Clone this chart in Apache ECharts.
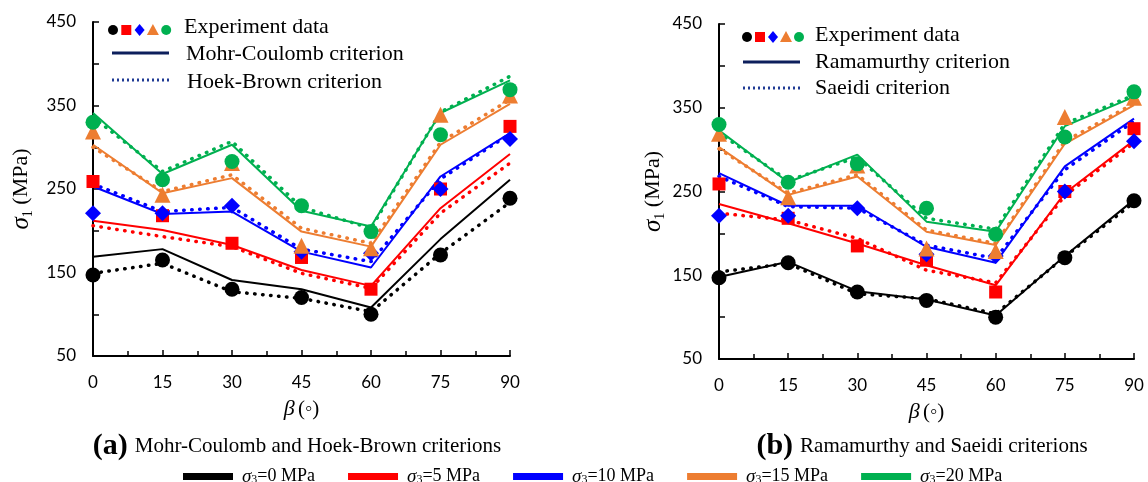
<!DOCTYPE html>
<html>
<head>
<meta charset="utf-8">
<script src="https://cdn.jsdelivr.net/npm/echarts@6/dist/echarts.min.js"></script>
<style>
  html, body { margin: 0; padding: 0; background: #fff; }
  #chart { width: 1148px; height: 482px; }
</style>
</head>
<body>
<div id="chart"></div>
<script>
const betaTicks = [0, 15, 30, 45, 60, 75, 90]
const stressLevels = ['0', '5', '10', '15', '20']
const colors = ['#000000', '#ff0000', '#0000ff', '#ed7d31', '#00b050']
const expSymbols = ['circle', 'rect', 'diamond', 'triangle', 'circle']

// experiment data, sigma3 = 0, 5, 10, 15, 20 MPa
const exp0 = [147, 165, 130, 120, 100, 171, 239]
const exp5 = [259, 218, 185, 168, 130, 250, 325]
const exp10 = [221, 221, 230, 175, 173, 250, 310]
const exp15 = [319, 243, 281, 182, 179, 339, 362]
const exp20 = [330, 261, 283, 230, 199, 315, 369]

// (a) Mohr-Coulomb
const mc0 = [169, 178, 141, 130, 108, 190, 261]
const mc5 = [212, 201, 183, 153, 134, 227, 292]
const mc10 = [253, 220, 223, 175, 156, 265, 317]
const mc15 = [303, 245, 263, 199, 181, 303, 352]
const mc20 = [341, 268, 303, 224, 205, 341, 380]

// (a) Hoek-Brown
const hb0 = [149, 161, 127, 119, 103, 173, 234]
const hb5 = [206, 193, 181, 149, 131, 221, 281]
const hb10 = [256, 223, 228, 178, 163, 262, 316]
const hb15 = [300, 247, 267, 203, 185, 306, 357]
const hb20 = [336, 271, 307, 228, 203, 342, 385]

// (b) Ramamurthy
const ra0 = [148, 166, 131, 121, 102, 173, 240]
const ra5 = [235, 212, 188, 162, 138, 248, 311]
const ra10 = [272, 233, 233, 184, 165, 280, 337]
const ra15 = [303, 246, 268, 202, 186, 307, 353]
const ra20 = [323, 261, 294, 214, 202, 328, 363]

// (b) Saeidi
const sa0 = [154, 164, 128, 122, 104, 172, 237]
const sa5 = [224, 216, 194, 156, 141, 245, 308]
const sa10 = [268, 232, 230, 186, 170, 276, 334]
const sa15 = [301, 248, 270, 204, 188, 310, 355]
const sa20 = [320, 263, 291, 218, 205, 331, 365]

const expAll = [exp0, exp5, exp10, exp15, exp20]
const mcAll = [mc0, mc5, mc10, mc15, mc20]
const hbAll = [hb0, hb5, hb10, hb15, hb20]
const raAll = [ra0, ra5, ra10, ra15, ra20]
const saAll = [sa0, sa5, sa10, sa15, sa20]

const serif = '"Liberation Serif", "DejaVu Serif", serif'
const sans = 'Lato, "Liberation Sans", sans-serif'

function pts(vals) {
  return betaTicks.map((b, i) => [b, vals[i]])
}

function solidLine(name, vals, k, axis) {
  return {
    name, type: 'line', xAxisIndex: axis, yAxisIndex: axis,
    data: pts(vals), symbol: 'none', silent: true, z: 2,
    lineStyle: { color: colors[k], width: 2 }
  }
}

function dotLine(name, vals, k, axis) {
  return {
    name, type: 'line', xAxisIndex: axis, yAxisIndex: axis,
    data: pts(vals), symbol: 'none', silent: true, z: 3,
    lineStyle: { color: colors[k], width: 3.5, type: [0.5, 7.5], cap: 'round' }
  }
}

function expPoints(vals, k, axis) {
  const sym = expSymbols[k]
  return {
    name: 'exp' + k + '_' + axis, type: 'scatter', xAxisIndex: axis, yAxisIndex: axis,
    data: pts(vals), symbol: sym, z: 5,
    symbolSize: sym === 'rect' ? 13 : sym === 'circle' ? 15 : 16,
    itemStyle: { color: colors[k], opacity: 1 }
  }
}

const series = []
for (let k = 0; k < 5; k++) {
  series.push(solidLine('mc' + k, mcAll[k], k, 0))
  series.push(dotLine('hb' + k, hbAll[k], k, 0))
  series.push(solidLine('ra' + k, raAll[k], k, 1))
  series.push(dotLine('sa' + k, saAll[k], k, 1))
}
for (let k = 0; k < 5; k++) {
  series.push(expPoints(expAll[k], k, 0))
  series.push(expPoints(expAll[k], k, 1))
}
// legend-only series
stressLevels.forEach((s, k) => {
  series.push({ name: s, type: 'line', data: [], itemStyle: { color: colors[k] }, lineStyle: { color: colors[k] } })
})

function xAxis(idx) {
  return {
    type: 'value', gridIndex: idx, min: 0, max: 90, interval: 15,
    name: '{i|β} {n|(◦)}', nameLocation: 'middle', nameGap: 42,
    nameTextStyle: {
      rich: {
        i: { fontFamily: serif, fontStyle: 'italic', fontSize: 22, color: '#000' },
        n: { fontFamily: serif, fontSize: 21, color: '#000' }
      }
    },
    axisLine: { lineStyle: { color: '#000', width: 2 } },
    axisTick: { inside: true, length: 6, lineStyle: { color: '#000', width: 1.5 } },
    minorTick: { show: true, splitNumber: 2, length: 5, lineStyle: { color: '#000', width: 1.5 } },
    axisLabel: { color: '#000', fontFamily: sans, fontSize: 17, margin: 18 },
    splitLine: { show: false }
  }
}

function yAxis(idx, gap) {
  return {
    type: 'value', gridIndex: idx, min: 50, max: 450, interval: 50,
    name: '{i|σ}{s|1}{n| (MPa)}', nameLocation: 'middle', nameGap: gap,
    nameTextStyle: {
      rich: {
        i: { fontFamily: serif, fontStyle: 'italic', fontSize: 25, color: '#000', lineHeight: 28 },
        s: { fontFamily: serif, fontSize: 14, color: '#000', verticalAlign: 'bottom', lineHeight: 28, padding: [9, 0, 0, 0] },
        n: { fontFamily: serif, fontSize: 22, color: '#000', lineHeight: 28 }
      }
    },
    axisLine: { show: true, lineStyle: { color: '#000', width: 2 } },
    axisTick: { inside: true, length: 6, lineStyle: { color: '#000', width: 1.5 } },
    axisLabel: {
      color: '#000', fontFamily: sans, fontSize: 17, margin: 17,
      formatter: v => ((v - 50) % 100 === 0 ? String(v) : '')
    },
    splitLine: { show: false }
  }
}

// marker row of the in-plot legends
function markerRow(x0, y, step) {
  const els = []
  expSymbols.forEach((sym, k) => {
    const cx = x0 + k * step
    const fill = colors[k]
    if (sym === 'circle') els.push({ type: 'circle', shape: { cx, cy: y, r: 5 }, style: { fill } })
    if (sym === 'rect') els.push({ type: 'rect', shape: { x: cx - 5, y: y - 5, width: 10, height: 10 }, style: { fill } })
    if (sym === 'diamond') els.push({ type: 'polygon', shape: { points: [[cx, y - 6], [cx + 5, y], [cx, y + 6], [cx - 5, y]] }, style: { fill } })
    if (sym === 'triangle') els.push({ type: 'polygon', shape: { points: [[cx, y - 6], [cx + 6, y + 5], [cx - 6, y + 5]] }, style: { fill } })
  })
  return els
}

function legendText(x, y, text) {
  return { type: 'text', x, y, style: { text, fill: '#000', font: '22px ' + serif, verticalAlign: 'middle' } }
}

function keyLine(x1, x2, y, dotted) {
  return {
    type: 'line', shape: { x1, y1: y, x2, y2: y },
    style: dotted
      ? { stroke: '#1f3a93', lineWidth: 3, lineDash: [2, 3] }
      : { stroke: '#0d1f5c', lineWidth: 3 }
  }
}

function caption(cx, y, tag, text) {
  return {
    type: 'text', x: cx, y,
    style: {
      text: '{b|' + tag + '}{t|' + text + '}', align: 'center', verticalAlign: 'middle',
      rich: {
        b: { fontFamily: serif, fontWeight: 'bold', fontSize: 30, fill: '#000', padding: [0, 7, 0, 0] },
        t: { fontFamily: serif, fontSize: 21, fill: '#000' }
      }
    }
  }
}

const graphic = [
  ...markerRow(113, 30, 13.3),
  legendText(184, 27, 'Experiment data'),
  keyLine(112, 169, 53, false),
  legendText(186, 54, 'Mohr-Coulomb criterion'),
  keyLine(112, 169, 80, true),
  legendText(187, 82, 'Hoek-Brown criterion'),
  ...markerRow(747, 37, 13),
  legendText(815, 35, 'Experiment data'),
  keyLine(743, 800, 62, false),
  legendText(815, 62, 'Ramamurthy criterion'),
  keyLine(743, 800, 88, true),
  legendText(815, 88, 'Saeidi criterion'),
  caption(297, 446, '(a)', 'Mohr-Coulomb and Hoek-Brown criterions'),
  caption(922, 446, '(b)', 'Ramamurthy and Saeidi criterions')
]

const chart = echarts.init(document.getElementById('chart'), null, { renderer: 'canvas' })

chart.setOption({
  animation: false,
  backgroundColor: '#fff',
  grid: [
    { left: 93, right: 638, top: 22, bottom: 126 },
    { left: 719, right: 14, top: 24, bottom: 123 }
  ],
  xAxis: [xAxis(0), xAxis(1)],
  yAxis: [yAxis(0, 58), yAxis(1, 52)],
  legend: {
    data: stressLevels, top: 462, left: 178, icon: 'rect',
    itemWidth: 50, itemHeight: 7, itemGap: 33, selectedMode: false,
    formatter: s => '{i|σ}{s|3}{n|=' + s + ' MPa}',
    textStyle: {
      rich: {
        i: { fontFamily: serif, fontStyle: 'italic', fontSize: 19, color: '#000', padding: [0, 0, 0, 4] },
        s: { fontFamily: serif, fontSize: 12, color: '#000', padding: [7, 0, 0, 0] },
        n: { fontFamily: serif, fontSize: 18, color: '#000' }
      }
    }
  },
  graphic,
  series
})

window.addEventListener('resize', () => chart.resize())
</script>
</body>
</html>
